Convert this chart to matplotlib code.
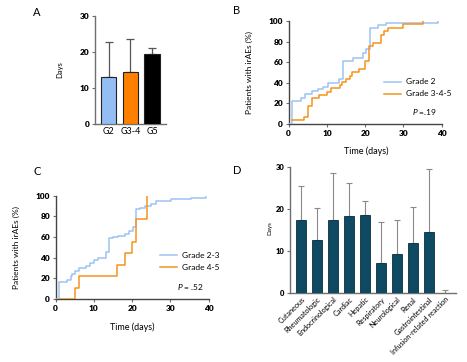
import matplotlib
matplotlib.use("Agg")
import matplotlib.pyplot as plt
import numpy as np

plt.rcParams['font.family'] = ['Lato', 'DejaVu Sans']
plt.rcParams['mathtext.fontset'] = 'custom'
plt.rcParams['mathtext.it'] = 'Lato:italic'
plt.rcParams['mathtext.rm'] = 'Lato'

# panel A: median days by grade
grades = ["G2", "G3-4", "G5"]
grade_days = [13.1, 14.35, 19.6]
grade_sd = [9.6, 9.15, 1.5]
grade_colors = ["#93bdf3", "#ff8000", "#000000"]

# panel B: cumulative incidence, grade 2 vs grade 3-4-5
b_g2_t = [0, 1, 3.2, 4.3, 6, 7.7, 9, 10.3, 13.2, 14.3, 16.9, 19.3, 20.3, 21.2, 23.4, 25.4, 39]
b_g2_p = [0, 22.5, 25, 29.5, 32, 34, 36, 39.5, 44, 61.5, 64, 68.5, 73, 93, 96, 97.7, 100]
b_g345_t = [1, 4, 5, 6, 8, 10, 11, 13.3, 14, 15, 16, 16.5, 18.5, 20, 21, 22, 24, 25, 26, 30, 35]
b_g345_p = [3.5, 7, 17.5, 25, 28, 31, 35, 38, 41, 44, 47, 50, 53, 61, 76, 79, 86, 90, 93, 97, 100]

# panel C: grade 2-3 vs grade 4-5
c_g23_t = [0, 1, 2.9, 3.9, 4.4, 5, 6, 7.9, 9, 10, 11, 13.1, 14, 15, 16.3, 18, 19.3, 20.2,
           21, 22, 23.3, 25, 26.3, 30.2, 35.4, 39.3]
c_g23_p = [0, 16.8, 18.4, 22, 24.5, 27, 29.7, 32, 34.5, 37.4, 40, 45.5, 58.7, 60, 61, 63.2, 65.8, 70,
           86.8, 88.4, 90, 92.3, 94.8, 96.8, 98, 99]
c_g45_t = [1, 5, 6, 16, 18, 20, 21, 24]
c_g45_p = [0, 11.1, 22.2, 33.3, 44.4, 55.6, 77.8, 100]

# panel D: days by organ
organs = ["Cutaneous", "Rheumatologic", "Endocrinological", "Cardiac", "Hepatic",
          "Respiratory", "Neurological", "Renal", "Gastrointestinal", "Infusion-related reaction"]
organ_days = [17.45, 12.65, 17.45, 18.3, 18.65, 7.1, 9.2, 12.0, 14.55, 0.1]
organ_sd = [8.15, 7.5, 11.1, 7.95, 3.35, 9.8, 8.15, 8.55, 14.9, 0.6]

blue = "#9cc3f5"
orange = "#f7931e"
teal = "#0e4b62"
spine_col = "#707070"


def style_axes(ax, xticks_len=2.5):
    for s in ["top", "right"]:
        ax.spines[s].set_visible(False)
    for s in ["left", "bottom"]:
        ax.spines[s].set_color(spine_col)
        ax.spines[s].set_linewidth(1.0)
    ax.tick_params(axis="y", direction="out", length=2.5, width=0.8, color=spine_col, pad=1.5)
    ax.tick_params(axis="x", direction="out", length=xticks_len, width=0.8, color=spine_col, pad=2)
    for lab in ax.get_yticklabels():
        lab.set_fontweight("heavy")
        lab.set_fontsize(6)


fig = plt.figure(figsize=(4.67, 3.62), dpi=100)

# ---- A
axA = fig.add_axes([0.2034, 0.6575, 0.152, 0.298])
xa = np.arange(len(grades))
axA.errorbar(xa, grade_days, yerr=[np.zeros(3), grade_sd], fmt="none", ecolor="#555555",
             elinewidth=0.9, capsize=3, capthick=0.9, zorder=2)
axA.bar(xa, grade_days, width=0.7, color=grade_colors, edgecolor="#222222", linewidth=0.8, zorder=3)
axA.set_xlim(-0.65, 2.65)
axA.set_ylim(0, 30)
axA.set_yticks([0, 10, 20, 30])
axA.set_xticks(xa)
axA.set_xticklabels(grades, fontsize=6.5)
style_axes(axA, xticks_len=0)
axA.set_ylabel("Days", fontsize=5.5)
axA.yaxis.set_label_coords(-0.45, 0.5)

# ---- B
axB = fig.add_axes([0.618, 0.6575, 0.328, 0.2845])
axB.step(b_g2_t, b_g2_p, where="post", color=blue, lw=1.1, label="Grade 2", zorder=3)
axB.step(b_g345_t, b_g345_p, where="post", color=orange, lw=1.1, label="Grade 3-4-5", zorder=3)
axB.set_xlim(0, 40)
axB.set_ylim(0, 100)
axB.set_xticks([0, 10, 20, 30, 40])
axB.set_yticks([0, 20, 40, 60, 80, 100])
style_axes(axB)
for lab in axB.get_xticklabels():
    lab.set_fontweight("heavy")
    lab.set_fontsize(6)
axB.set_ylabel("Patients with irAEs (%)", fontsize=6)
axB.yaxis.set_label_coords(-0.233, 0.5)
axB.set_xlabel("Time (days)", fontsize=6.5)
axB.xaxis.set_label_coords(0.504, -0.223)
axB.legend(loc="center left", bbox_to_anchor=(0.6, 0.35), frameon=False, fontsize=6,
           handlelength=2.0, labelspacing=0.6, handletextpad=0.6, borderaxespad=0)
axB.text(0.97, 0.07, r"$P$ =.19", transform=axB.transAxes, ha="right", va="bottom", fontsize=6)
for s in ["left", "bottom"]:
    axB.spines[s].set_color("#444444")

# ---- C
axC = fig.add_axes([0.119, 0.174, 0.328, 0.285])
axC.step(c_g23_t, c_g23_p, where="post", color=blue, lw=1.1, label="Grade 2-3", zorder=3)
axC.step(c_g45_t, c_g45_p, where="post", color=orange, lw=1.1, label="Grade 4-5", zorder=3)
axC.set_xlim(0, 40)
axC.set_ylim(0, 100)
axC.set_xticks([0, 10, 20, 30, 40])
axC.set_yticks([0, 20, 40, 60, 80, 100])
style_axes(axC)
for lab in axC.get_xticklabels():
    lab.set_fontweight("heavy")
    lab.set_fontsize(6)
axC.set_ylabel("Patients with irAEs (%)", fontsize=6)
axC.yaxis.set_label_coords(-0.233, 0.5)
axC.set_xlabel("Time (days)", fontsize=6.5)
axC.xaxis.set_label_coords(0.5, -0.23)
axC.legend(loc="center left", bbox_to_anchor=(0.66, 0.363), frameon=False, fontsize=6,
           handlelength=2.0, labelspacing=0.6, handletextpad=0.6, borderaxespad=0)
axC.text(0.97, 0.07, r"$P$ = .52", transform=axC.transAxes, ha="right", va="bottom", fontsize=6)
for s in ["left", "bottom"]:
    axC.spines[s].set_color("#444444")

# ---- D
axD = fig.add_axes([0.621, 0.1906, 0.355, 0.348])
xd = np.arange(len(organs))
axD.errorbar(xd, organ_days, yerr=[np.zeros(len(organs)), organ_sd], fmt="none",
             ecolor="#8a8a8a", elinewidth=0.8, capsize=2.5, capthick=0.8, zorder=2)
axD.bar(xd, organ_days, width=0.63, color=teal, edgecolor="#0a2f3d", linewidth=0.6, zorder=3)
axD.set_xlim(-0.69, 9.69)
axD.set_ylim(0, 30)
axD.set_yticks([0, 10, 20, 30])
axD.set_xticks(xd)
axD.set_xticklabels(organs, rotation=45, ha="right", rotation_mode="anchor", fontsize=5.2)
style_axes(axD, xticks_len=0)
for lab in axD.get_yticklabels():
    lab.set_fontsize(5.5)
axD.set_ylabel("Days", fontsize=4.5)
axD.yaxis.set_label_coords(-0.108, 0.516)

# panel letters
fig.text(0.079, 0.965, "A", fontsize=8, ha="center", va="center")
fig.text(0.507, 0.972, "B", fontsize=8, ha="center", va="center")
fig.text(0.079, 0.525, "C", fontsize=8, ha="center", va="center")
fig.text(0.507, 0.53, "D", fontsize=8, ha="center", va="center")

fig.savefig("out.png", dpi=100)
